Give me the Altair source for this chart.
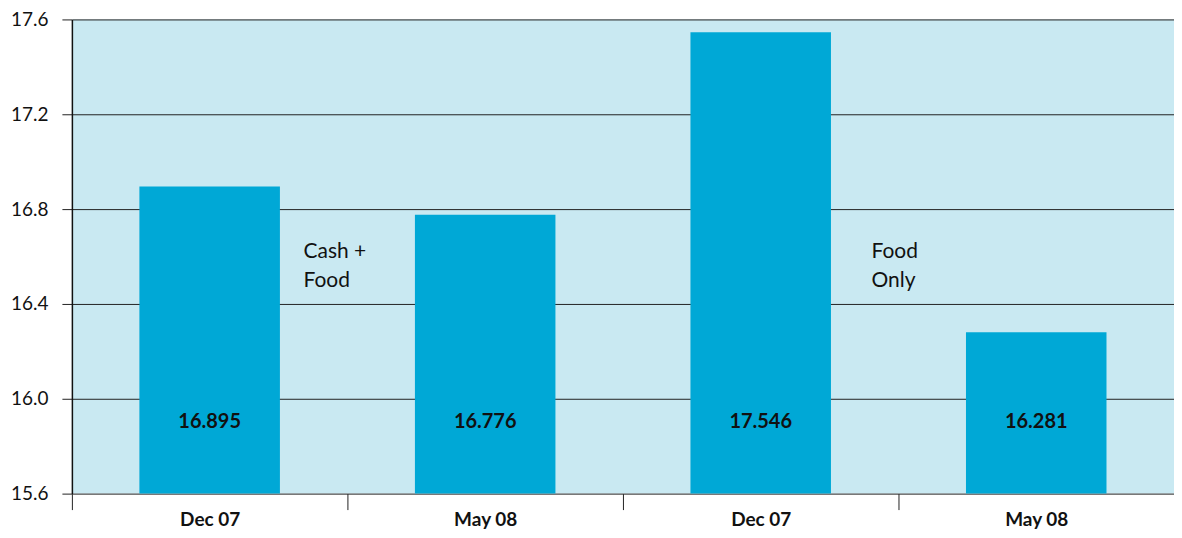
import altair as alt
import pandas as pd

keys = ["a", "b", "c", "d"]
labels = ["Dec 07", "May 08", "Dec 07", "May 08"]
values = [16.895, 16.776, 17.546, 16.281]
value_text = ["16.895", "16.776", "17.546", "16.281"]

notes = [["Cash +", "Food"], ["Food", "Only"]]

df = pd.DataFrame({"key": keys, "label": labels, "value": values, "vt": value_text})

W, H = 1104, 475
FONT = "Lato"
label_expr = "{'a':'Dec 07','b':'May 08','c':'Dec 07','d':'May 08'}[datum.value]"

xenc = alt.X(
    "key:N",
    sort=keys,
    scale=alt.Scale(paddingInner=0, paddingOuter=0),
    axis=alt.Axis(
        title=None,
        labelExpr=label_expr,
        labelAngle=0,
        tickSize=16,
        tickColor="#222",
        tickOffset=-W / 8,
        labelOffset=W / 8,
        labelPadding=1,
        labelFontSize=19,
        labelFontWeight="bold",
        labelFont=FONT,
        labelColor="#111",
        domain=False,
        grid=False,
    ),
)

yenc = alt.Y(
    "value:Q",
    scale=alt.Scale(domain=[15.6, 17.6], nice=False, zero=False),
    axis=alt.Axis(
        title=None,
        values=[15.6, 16.0, 16.4, 16.8, 17.2, 17.6],
        format=".1f",
        tickSize=10,
        tickColor="#222",
        labelPadding=14,
        labelFontSize=19,
        labelFont=FONT,
        labelColor="#111",
        grid=True,
        gridColor="#222",
        gridWidth=1,
        domain=True,
        domainColor="#111",
        domainWidth=1.5,
    ),
)

bars = alt.Chart(df).mark_bar(color="#00a8d6", width={"band": 0.51}, clip=True).encode(
    x=xenc, y=yenc
)

vals = alt.Chart(df).mark_text(
    font=FONT, fontSize=20, fontWeight="bold", color="#111", baseline="middle"
).encode(
    x=alt.X("key:N", sort=keys),
    y=alt.value(403),
    text="vt:N",
)

note_df = pd.DataFrame({"t": notes, "px": [232, 801]})
note_layer = alt.Chart(note_df).mark_text(
    font=FONT, fontSize=21, color="#111", align="left", baseline="middle", lineHeight=29
).encode(
    x=alt.X("px:Q", scale=None),
    y=alt.value(233),
    text="t",
)

chart = (
    alt.layer(bars, vals, note_layer)
    .properties(
        width=W,
        height=H,
        padding={"left": 64, "top": 11, "right": 0, "bottom": 38},
        autosize=alt.AutoSizeParams(type="none"),
    )
    .configure_view(fill="#c9e9f2", stroke=None)
)

chart.save("out.html", embed_options={"renderer": "svg", "actions": False})
